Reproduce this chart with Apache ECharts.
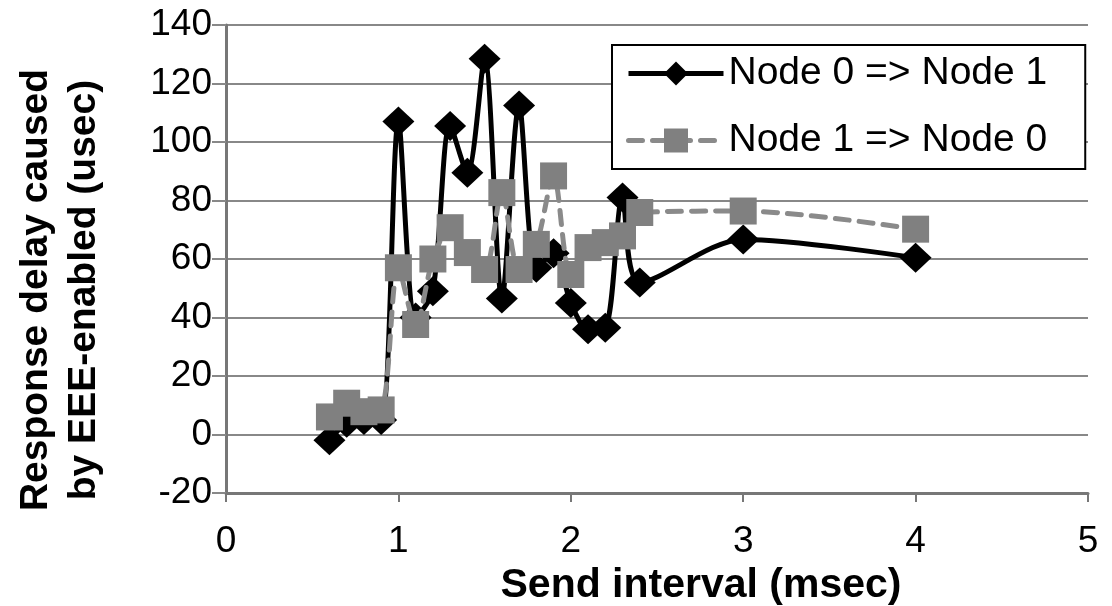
<!DOCTYPE html>
<html>
<head>
<meta charset="utf-8">
<script src="https://cdn.jsdelivr.net/npm/echarts@6/dist/echarts.min.js"></script>
<style>
html,body{margin:0;padding:0;background:#fff;}
#chart{width:1112px;height:606px;}
</style>
</head>
<body>
<div id="chart"></div>
<script>
const sendInterval = [0.6, 0.7, 0.8, 0.9, 1.0, 1.1, 1.2, 1.3, 1.4, 1.5, 1.6, 1.7, 1.8, 1.9, 2.0, 2.1, 2.2, 2.3, 2.4, 3.0, 4.0];
const node0to1 = [-2, 4, 5, 5, 107, 40, 49, 105.5, 89.5, 128.5, 46.5, 112.5, 57, 62, 45, 36, 36.5, 81, 52, 66.7, 60.4];
const node1to0 = [6, 10.7, 7.8, 8.4, 57, 37.6, 60, 70.7, 62.2, 56.4, 82.7, 56.4, 65, 88.4, 54.7, 63.9, 65.6, 67.9, 75.9, 76.4, 70.2];
const seriesNames = ['Node 0 => Node 1', 'Node 1 => Node 0'];
const xTitle = 'Send interval (msec)';
const yTitle = 'Response delay caused\nby EEE-enabled (usec)';

const pair = (xs, ys) => xs.map((x, i) => [x, ys[i]]);
const FONT = '"Liberation Sans", Arial, sans-serif';

const blackLine = {color: '#000', width: 5};
const grayLine = {color: '#8a8a8a', width: 5, type: [14, 10], cap: 'round'};

const chart = echarts.init(document.getElementById('chart'), null, {renderer: 'canvas'});
chart.setOption({
  animation: false,
  backgroundColor: '#ffffff',
  textStyle: {fontFamily: FONT},
  grid: {left: 226, right: 24, top: 25, bottom: 113, containLabel: false, outerBoundsMode: 'none'},
  legend: {
    orient: 'vertical',
    left: 612, top: 45,
    padding: [9, 38, 9, 14],
    backgroundColor: '#ffffff',
    borderColor: '#000',
    borderWidth: 2,
    itemWidth: 95,
    itemHeight: 30,
    itemGap: 28,
    textStyle: {fontFamily: FONT, fontSize: 39, color: '#000'},
    data: [
      {name: seriesNames[0], lineStyle: blackLine},
      {name: seriesNames[1], lineStyle: grayLine}
    ]
  },
  xAxis: {
    type: 'value',
    min: 0, max: 5, interval: 1,
    name: xTitle,
    nameLocation: 'middle',
    nameGap: 70,
    nameTextStyle: {fontFamily: FONT, fontSize: 41, fontWeight: 'bold', color: '#000', padding: [0, 0, 0, 88]},
    axisLine: {show: true, onZero: false, lineStyle: {color: '#777', width: 3}},
    axisTick: {show: true, length: 9, lineStyle: {color: '#777', width: 2}},
    axisLabel: {fontFamily: FONT, fontSize: 37, color: '#000', margin: 30},
    splitLine: {show: false}
  },
  yAxis: {
    type: 'value',
    min: -20, max: 140, interval: 20,
    name: yTitle,
    nameLocation: 'middle',
    nameRotate: 90,
    nameGap: 118,
    nameTextStyle: {fontFamily: FONT, fontSize: 39, fontWeight: 'bold', color: '#000', lineHeight: 48, padding: [0, 62, 0, 0]},
    axisLine: {show: true, lineStyle: {color: '#777', width: 3}},
    axisTick: {show: true, length: 14, lineStyle: {color: '#888', width: 2}},
    axisLabel: {fontFamily: FONT, fontSize: 37, color: '#000', margin: 14},
    splitLine: {show: true, lineStyle: {color: '#888', width: 2}}
  },
  series: [
    {
      name: seriesNames[0],
      type: 'line',
      data: pair(sendInterval, node0to1),
      smooth: 0.3,
      symbol: 'diamond',
      symbolSize: [32, 30],
      lineStyle: blackLine,
      itemStyle: {color: '#000'},
      z: 2
    },
    {
      name: seriesNames[1],
      type: 'line',
      data: pair(sendInterval, node1to0),
      smooth: 0.3,
      symbol: 'rect',
      symbolSize: 27,
      lineStyle: grayLine,
      itemStyle: {color: '#808080'},
      z: 3
    }
  ]
});
</script>
</body>
</html>
